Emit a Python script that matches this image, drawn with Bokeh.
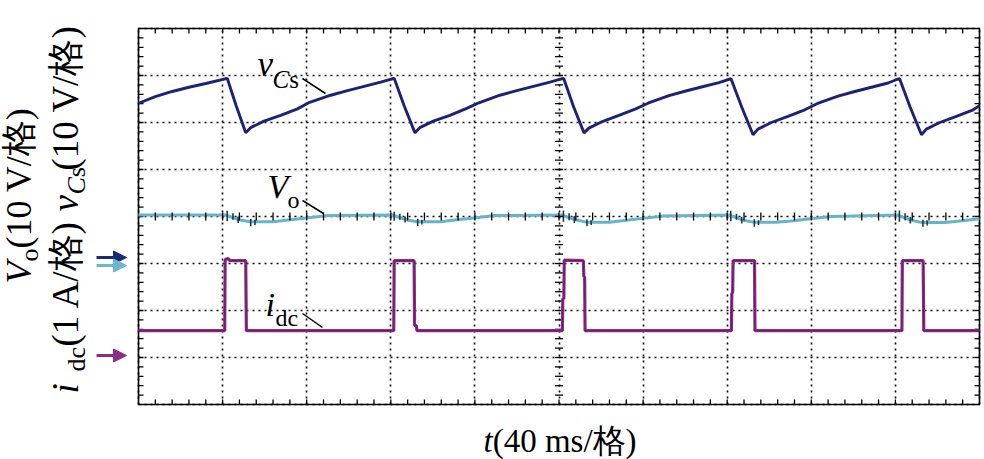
import numpy as np
from bokeh.plotting import figure
from bokeh.models import Range1d, Arrow, NormalHead, SingleIntervalTicker, Grid
from bokeh.core.properties import value
from bokeh.embed import file_html
from bokeh.resources import INLINE

# ---------------- data (in screen divisions) ----------------
# time in ms (40 ms/div), amplitude in divisions (8 divisions tall)
vcs_t = [0, 8, 16, 24, 32, 41.2, 42.2, 46.5, 51.0,
         53.3, 59.7, 67.6, 75.6, 81.4, 91.4, 99.4, 107.3, 115.2, 120.6, 121.6, 126.3, 131.5,
         133.8, 140.2, 148.1, 156.1, 161.9, 171.9, 179.9, 187.8, 195.7, 201.2, 202.2, 206.8, 211.9,
         214.2, 220.6, 228.5, 236.5, 242.3, 252.3, 260.3, 268.2, 276.1, 280.8, 281.8, 286.9, 292.3,
         294.6, 301.0, 308.9, 316.9, 322.7, 332.7, 340.7, 348.6, 356.5, 361.0, 362.0, 367.0, 372.4,
         374.7, 381.1, 389.0, 397.0, 400]
vcs_v = [6.41, 6.55, 6.66, 6.75, 6.83, 6.93, 6.94, 6.35, 5.78,
         5.89, 6.03, 6.15, 6.29, 6.43, 6.58, 6.68, 6.77, 6.86, 6.93, 6.94, 6.36, 5.78,
         5.89, 6.03, 6.15, 6.30, 6.42, 6.58, 6.68, 6.77, 6.86, 6.93, 6.94, 6.35, 5.78,
         5.88, 6.02, 6.15, 6.29, 6.41, 6.57, 6.67, 6.76, 6.85, 6.92, 6.93, 6.33, 5.74,
         5.86, 6.00, 6.13, 6.27, 6.40, 6.56, 6.66, 6.75, 6.84, 6.92, 6.93, 6.33, 5.74,
         5.86, 6.00, 6.13, 6.27, 6.36]

vo_t = [0, 41.5, 44, 48, 53, 64, 72, 80, 90, 121,
        123.5, 127.5, 132.5, 143.5, 151.5, 159.5, 169.5, 201.5,
        204, 208, 213, 224, 232, 240, 250, 281,
        283.5, 287.5, 292.5, 303.5, 311.5, 319.5, 329.5, 361.2,
        363.7, 367.7, 372.7, 383.7, 391.7, 400]
vo_v = [4.03, 4.03, 3.99, 3.93, 3.89, 3.89, 3.93, 3.97, 4.02, 4.03,
        3.99, 3.93, 3.89, 3.89, 3.93, 3.97, 4.02, 4.03,
        3.99, 3.93, 3.88, 3.88, 3.92, 3.96, 4.01, 4.03,
        3.99, 3.92, 3.88, 3.88, 3.91, 3.95, 4.00, 4.03,
        3.98, 3.92, 3.87, 3.87, 3.91, 3.95]

vo_spike_t = [42.2, 44.9, 47.4, 53.4, 55.4,
              121.6, 124.3, 126.8, 132.8, 134.8,
              202.1, 204.8, 207.3, 213.3, 215.3,
              281.7, 284.4, 286.9, 292.9, 294.9,
              361.9, 364.6, 367.1, 373.1, 375.1]
vo_spike_lo = [3.90, 3.93, 3.86, 3.79, 3.82,
               3.91, 3.93, 3.87, 3.80, 3.83,
               3.89, 3.92, 3.86, 3.79, 3.82,
               3.90, 3.93, 3.85, 3.78, 3.82,
               3.89, 3.92, 3.85, 3.78, 3.81]
vo_spike_hi = [4.12, 4.07, 4.00, 3.95, 3.93,
               4.10, 4.06, 4.00, 3.95, 3.93,
               4.13, 4.07, 4.01, 3.94, 3.92,
               4.12, 4.06, 3.99, 3.94, 3.92,
               4.13, 4.07, 3.99, 3.93, 3.92]

idc_t = [0, 41.0, 41.2, 42.5, 43.5, 51.0, 51.3,
         121.4, 121.6, 131.1, 131.3, 132.2, 132.4,
         201.6, 201.8, 202.3, 202.5, 211.6, 211.8, 212.2, 212.4,
         282.0, 282.2, 282.6, 282.8, 293.0, 293.2,
         363.1, 363.3, 373.2, 373.5, 400]
idc_v = [1.57, 1.57, 3.08, 3.11, 3.06, 3.06, 1.57,
         1.57, 3.06, 3.06, 1.68, 1.68, 1.57,
         1.57, 2.25, 2.25, 3.07, 3.06, 2.72, 2.72, 1.57,
         1.57, 2.35, 2.40, 3.06, 3.06, 1.57,
         1.57, 3.06, 3.06, 1.57, 1.57]

x_label_parts = [("t", True), ("(40 ms/格)", False)]

# ---------------- layout (page pixels) ----------------
W, H = 984, 459
FL, FR, FT, FB = 138, 979, 28, 404          # scope screen edges
X0, X1 = 0, 400
Y0, Y1 = 0, 8
FW = FR - FL
FH = FB - FT

def tx(px):
    return X0 + (px - FL) / FW * (X1 - X0)

def ty(py):
    return Y0 + (FB - py) / FH * (Y1 - Y0)

def dx(px):
    return px / FW * (X1 - X0)

def dy(py):
    return py / FH * (Y1 - Y0)

p = figure(width=W, height=H, x_range=Range1d(tx(0), tx(W)), y_range=Range1d(ty(H), ty(0)),
           output_backend="svg", toolbar_location=None,
           x_axis_location=None, y_axis_location=None,
           min_border_left=0, min_border_right=0, min_border_top=0, min_border_bottom=0)
p.background_fill_color = "white"
p.border_fill_color = "white"
p.outline_line_color = None

# dotted graticule (library grid limited to the scope screen)
xt = SingleIntervalTicker(interval=40)
yt = SingleIntervalTicker(interval=1)
has_cb = "cross_bounds" in Grid.properties()
if has_cb:
    p.xgrid.ticker = xt
    p.ygrid.ticker = yt
    p.xgrid.bounds = (X0, X1)
    p.ygrid.bounds = (Y0, Y1)
    p.xgrid.cross_bounds = (Y0, Y1)
    p.ygrid.cross_bounds = (X0, X1)
    p.grid.grid_line_color = "black"
    p.grid.grid_line_dash = "2 4"
    p.grid.grid_line_width = 1.6
else:
    p.grid.visible = False
    gx = np.arange(40, 400, 40)
    gy = np.arange(1, 8, 1)
    p.segment(x0=gx, y0=Y0, x1=gx, y1=Y1, line_color="black", line_dash="2 4", line_width=1.6)
    p.segment(x0=X0, y0=gy, x1=X1, y1=gy, line_color="black", line_dash="2 4", line_width=1.6)

# screen border
p.rect(x=[(X0 + X1) / 2], y=[(Y0 + Y1) / 2], width=X1 - X0, height=Y1 - Y0,
       fill_color=None, line_color="black", line_width=1.6)

# frame ticks (5 per division, inward) and centre-cross ticks
mx = np.arange(8, 400, 8)
my = np.arange(0.2, 8, 0.2)
tl = 5
p.segment(x0=mx, y0=Y0, x1=mx, y1=Y0 + dy(tl), line_color="black", line_width=1.3)
p.segment(x0=mx, y0=Y1, x1=mx, y1=Y1 - dy(tl), line_color="black", line_width=1.3)
p.segment(x0=X0, y0=my, x1=X0 + dx(tl), y1=my, line_color="black", line_width=1.3)
p.segment(x0=X1, y0=my, x1=X1 - dx(tl), y1=my, line_color="black", line_width=1.3)

p.line(vo_t, vo_v, line_color="#66b4c9", line_width=3)
p.segment(x0=vo_spike_t, y0=vo_spike_lo, x1=vo_spike_t, y1=vo_spike_hi,
          line_color="#1f3a48", line_width=1.6)

p.segment(x0=mx, y0=4 - dy(4), x1=mx, y1=4 + dy(4), line_color="black", line_width=1.3)
p.segment(x0=200 - dx(4), y0=my, x1=200 + dx(4), y1=my, line_color="black", line_width=1.3)

p.line(vcs_t, vcs_v, line_color="#1c2374", line_width=2.9)
p.line(idc_t, idc_v, line_color="#8e2d88", line_width=3.2)
p.line(idc_t, idc_v, line_color="#3a0c3e", line_width=1.0, line_alpha=0.5)

# ---------------- text ----------------
SERIF = "Liberation Serif"
WID = {'(': .333, ')': .333, '1': .5, '0': .5, '4': .5, ' ': .25, 'V': .722, 'A': .722,
       '/': .278, 'm': .778, 's': .389, 'd': .5, 'c': .444, 'o': .5, '格': 1.0}
WID_I = {'v': .444, 'V': .611, 'i': .278, 't': .278, 'C': .667}
OFF = 0.33   # observed drop of the rendered baseline, in em

def twidth(s, size, italic):
    tab = WID_I if italic else WID
    return sum(tab.get(ch, WID.get(ch, .5)) for ch in s) * size

def T(px, py, s, size, italic=False, angle=0.0):
    if angle == 0.0:
        py = py - OFF * size
    else:
        px = px - OFF * size
    p.text(x=[tx(px)], y=[ty(py)], text=[s], angle=angle,
           text_font=value(SERIF), text_font_size=value(f"{size}px"),
           text_font_style="italic" if italic else "normal",
           text_baseline="alphabetic", text_align="left", text_color="black")

# trace labels with leader lines
T(257, 76, "v", 35, True)
T(272, 87, "C", 25, True)
T(272 + twidth("C", 25, True), 87, "s", 25)
T(267, 197, "V", 34, True)
T(287, 207, "o", 24)
T(265, 315, "i", 34, True)
T(275, 325, "dc", 24)
p.segment(x0=[tx(302), tx(302), tx(302)], y0=[ty(78), ty(200), ty(313)],
          x1=[tx(325), tx(323), tx(322)], y1=[ty(93), ty(213), ty(327)],
          line_color="black", line_width=1.5)

# rotated channel titles (read bottom to top)
R = np.pi / 2
T(30, 283, "V", 36, True, R)
T(38, 283 - twidth("V", 36, True), "o", 26, False, R)
T(30, 283 - twidth("V", 36, True) - twidth("o", 26, False), "(10 V/格)", 36, False, R)
T(77, 393, "i", 37, True, R)
T(85, 371, "dc", 26, False, R)
T(77, 346, "(1 A/格)", 37, False, R)
T(77, 211, "v", 37, True, R)
T(85, 194, "C", 26, True, R)
T(85, 194 - twidth("C", 26, True), "s", 26, False, R)
T(77, 170, "(10 V/格)", 37, False, R)

# ground-level markers
for py, col in [(257, "#1b2a78"), (265, "#6ab8d0"), (355, "#8e2c8c")]:
    p.add_layout(Arrow(x_start=tx(96), y_start=ty(py), x_end=tx(126), y_end=ty(py),
                       line_color=col, line_width=3,
                       end=NormalHead(size=13, fill_color=col, line_color=col)))

# time-axis title
cur = 483
for s, it in x_label_parts:
    T(cur, 451, s, 33, it)
    cur += twidth(s, 33, it)

open("out.html", "w").write(file_html(p, INLINE))
